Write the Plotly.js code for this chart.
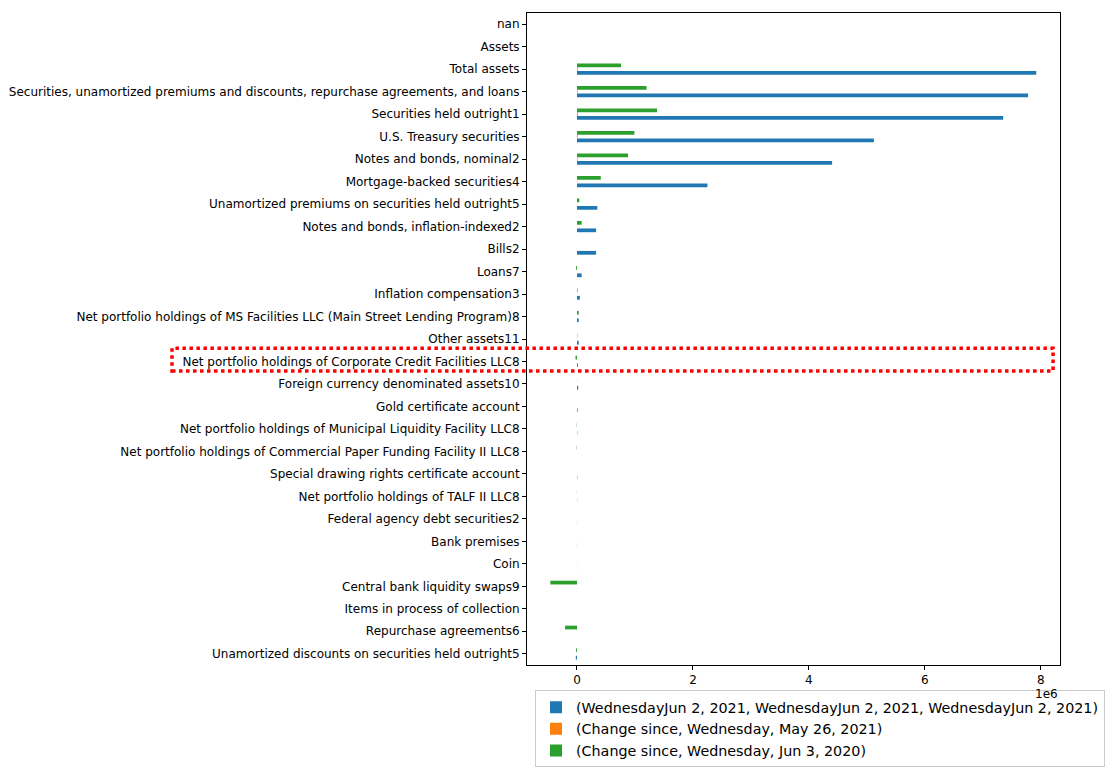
<!DOCTYPE html>
<html>
<head>
<meta charset="utf-8">
<script src="https://cdn.plot.ly/plotly-3.0.1.min.js"></script>
<style>html,body{margin:0;padding:0;background:#fff;}#chart{width:1115px;height:773px;}</style>
</head>
<body>
<div id="chart"></div>
<script>
// Categories listed top-to-bottom as they appear in the chart
const categories = [
  "nan",
  "Assets",
  "Total assets",
  "Securities, unamortized premiums and discounts, repurchase agreements, and loans",
  "Securities held outright1",
  "U.S. Treasury securities",
  "Notes and bonds, nominal2",
  "Mortgage-backed securities4",
  "Unamortized premiums on securities held outright5",
  "Notes and bonds, inflation-indexed2",
  "Bills2",
  "Loans7",
  "Inflation compensation3",
  "Net portfolio holdings of MS Facilities LLC (Main Street Lending Program)8",
  "Other assets11",
  "Net portfolio holdings of Corporate Credit Facilities LLC8",
  "Foreign currency denominated assets10",
  "Gold certificate account",
  "Net portfolio holdings of Municipal Liquidity Facility LLC8",
  "Net portfolio holdings of Commercial Paper Funding Facility II LLC8",
  "Special drawing rights certificate account",
  "Net portfolio holdings of TALF II LLC8",
  "Federal agency debt securities2",
  "Bank premises",
  "Coin",
  "Central bank liquidity swaps9",
  "Items in process of collection",
  "Repurchase agreements6",
  "Unamortized discounts on securities held outright5"
];

// Wednesday Jun 2, 2021 (millions of dollars)
const seriesJun2021 = [
  null, null, 7920000, 7780000, 7350000, 5120000, 4400000, 2250000,
  350000, 330000, 330000, 80000, 50000, 30000, 30000, 15000, 21000,
  11000, 5000, 8, 5200, 3000, 2347, 2200, 1400, 500, 0, 0, -20000
];

// Change since Wednesday, May 26, 2021
const seriesChangeWeek = [
  null, null, 12000, 10000, 15000, 12000, 10000, 3000,
  -1000, 1000, 0, -1000, 300, 0, -1000, 0, 0,
  0, 0, 0, 0, 0, 0, 0, 0, 0, 0, 0, 0
];

// Change since Wednesday, Jun 3, 2020
const seriesChangeYear = [
  null, null, 760000, 1200000, 1380000, 990000, 880000, 410000,
  40000, 80000, 0, -15000, 10000, 30000, 5000, -25000, 1000,
  0, -5000, -5000, 0, -2000, 0, 0, -400, -460000, 0, -205000, -15000
];

const seriesNames = [
  "(WednesdayJun 2, 2021, WednesdayJun 2, 2021, WednesdayJun 2, 2021)",
  "(Change since, Wednesday, May 26, 2021)",
  "(Change since, Wednesday, Jun 3, 2020)"
];
const seriesColors = ["#1f77b4", "#ff7f0e", "#2ca02c"];

const xTickVals = [0, 2000000, 4000000, 6000000, 8000000];
const xTickText = ["0", "2", "4", "6", "8"];

const allSeries = [seriesJun2021, seriesChangeWeek, seriesChangeYear];
const traces = allSeries.map((vals, i) => ({
  type: "bar",
  orientation: "h",
  name: seriesNames[i],
  y: categories,
  x: vals,
  marker: {color: seriesColors[i], line: {width: 0}},
  hoverinfo: "x+y"
}));

const font = {family: "DejaVu Sans, sans-serif", size: 12, color: "#000"};

const layout = {
  width: 1115,
  height: 773,
  margin: {l: 527, r: 55, t: 13, b: 108, pad: 0, autoexpand: false},
  paper_bgcolor: "#fff",
  plot_bgcolor: "#fff",
  font: font,
  barmode: "group",
  bargap: 0.5,
  bargroupgap: 0,
  showlegend: true,
  xaxis: {
    range: [-862000, 8330000],
    tickvals: xTickVals,
    ticktext: xTickText,
    ticks: "outside",
    ticklen: 4,
    tickwidth: 1,
    tickcolor: "#000",
    showgrid: false,
    zeroline: false,
    showline: true,
    linecolor: "#000",
    linewidth: 1,
    mirror: true,
    tickfont: font,
    automargin: false
  },
  yaxis: {
    type: "category",
    categoryorder: "array",
    categoryarray: categories.slice().reverse(),
    range: [-0.5, categories.length - 0.5],
    ticks: "outside",
    ticklen: 4,
    tickwidth: 1,
    tickcolor: "#000",
    showgrid: false,
    zeroline: false,
    showline: true,
    linecolor: "#000",
    linewidth: 1,
    mirror: true,
    tickfont: font,
    automargin: false
  },
  legend: {
    x: 0.015,
    y: -0.039,
    xanchor: "left",
    yanchor: "top",
    bgcolor: "rgba(255,255,255,0.9)",
    bordercolor: "#cccccc",
    borderwidth: 1,
    font: {family: "DejaVu Sans, sans-serif", size: 14.3, color: "#000"},
    traceorder: "normal"
  },
  annotations: [{
    text: "1e6",
    xref: "paper",
    yref: "paper",
    x: 1.0,
    y: -0.03,
    xanchor: "right",
    yanchor: "top",
    showarrow: false,
    font: {family: "DejaVu Sans, sans-serif", size: 12, color: "#000"}
  }],
  shapes: [{
    type: "rect",
    xref: "paper",
    yref: "paper",
    x0: -0.666,
    x1: 0.987,
    y0: 0.451,
    y1: 0.486,
    line: {color: "#ff0000", width: 3.5, dash: "dot"},
    fillcolor: "rgba(0,0,0,0)",
    layer: "above"
  }]
};

Plotly.newPlot("chart", traces, layout, {displayModeBar: false, staticPlot: true});
</script>
</body>
</html>
